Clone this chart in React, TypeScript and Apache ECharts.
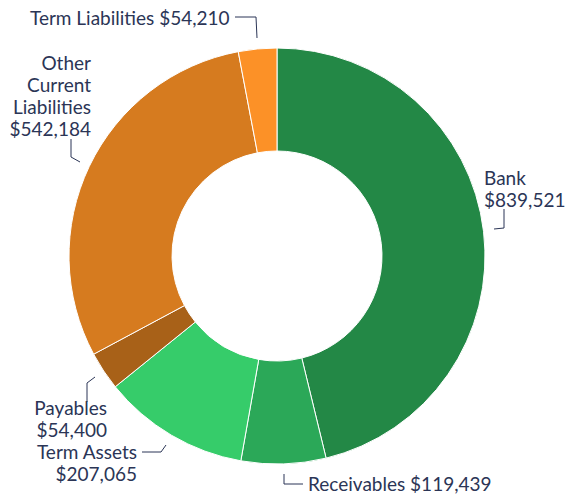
import React, { useEffect, useRef } from "react";
import * as echarts from "echarts";

const categories = [
  "Bank",
  "Receivables",
  "Term Assets",
  "Payables",
  "Other Current Liabilities",
  "Term Liabilities",
];
const values = [839521, 119439, 207065, 54400, 542184, 54210];
const colors = ["#238846", "#2ba858", "#36cc6a", "#a86118", "#d67b1f", "#fc9127"];
// how each label's name is broken into lines (value appended as "$x,xxx")
const labelNameLines = [
  ["Bank"],
  ["Receivables"],
  ["Term Assets"],
  ["Payables"],
  ["Other", "Current", "Liabilities"],
  ["Term Liabilities"],
];
const valueOnNewLine = [true, false, true, true, true, false];

// label placement (layout, not data)
const labelLayouts = [
  { x: 484, y: 188.5, align: "left", line: [[494, 229], [504, 228], [504, 209]] },
  { x: 308, y: 483, align: "left", line: [[284, 474], [284, 484], [303, 484]] },
  { x: 137, y: 462, align: "right", line: [[166, 445], [161, 452], [142, 452]] },
  { x: 107, y: 418.5, align: "right", line: [[95, 377], [87, 383], [87, 402]] },
  { x: 91, y: 95, align: "right", line: [[80, 162], [71, 157], [71, 139]] },
  { x: 30, y: 17, align: "left", line: [[257, 38], [256, 17], [235, 17]] },
];

const fmt = (v: number) => "$" + v.toLocaleString("en-US");

export default function App() {
  const ref = useRef<HTMLDivElement>(null);
  useEffect(() => {
    document.body.style.margin = "0";
    const chart = echarts.init(ref.current!, undefined, { renderer: "svg" });
    chart.setOption({
      animation: false,
      series: [
        {
          type: "pie",
          center: [277, 256],
          radius: [105, 208],
          startAngle: 90,
          clockwise: true,
          avoidLabelOverlap: false,
          itemStyle: { borderColor: "#ffffff", borderWidth: 1 },
          label: {
            show: true,
            color: "#2b3556",
            fontFamily: "Lato",
            fontSize: 19,
            lineHeight: 22,
            formatter: (p: any) => {
              const i = p.dataIndex;
              const lines = labelNameLines[i];
              const v = fmt(values[i]);
              return valueOnNewLine[i]
                ? [...lines, v].join("\n")
                : lines.join("\n") + " " + v;
            },
          },
          labelLine: {
            show: true,
            lineStyle: { color: "#2b3556", width: 1 },
          },
          labelLayout: (params: any) => {
            const l = labelLayouts[params.dataIndex];
            return {
              x: l.x,
              y: l.y,
              align: l.align,
              verticalAlign: "middle",
              labelLinePoints: l.line,
            };
          },
          emphasis: { disabled: true },
          data: categories.map((c, i) => ({
            name: c,
            value: values[i],
            itemStyle: { color: colors[i] },
            label: { align: labelLayouts[i].align },
          })),
        },
      ],
    });
    return () => chart.dispose();
  }, []);
  return <div ref={ref} style={{ width: 565, height: 494 }} />;
}
